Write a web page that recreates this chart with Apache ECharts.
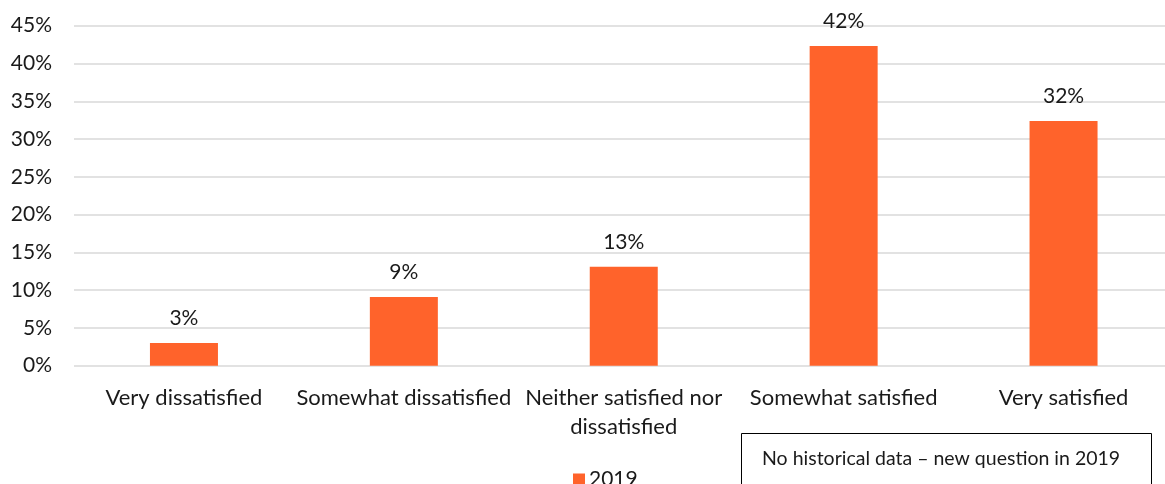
<!DOCTYPE html>
<html>
<head>
<meta charset="utf-8">
<script src="https://cdn.jsdelivr.net/npm/echarts@6/dist/echarts.min.js"></script>
<style>
html,body{margin:0;padding:0;background:#fff;}
#chart{width:1165px;height:484px;}
</style>
</head>
<body>
<div id="chart"></div>
<script>
const categories = ['Very dissatisfied', 'Somewhat dissatisfied', 'Neither satisfied nor\ndissatisfied', 'Somewhat satisfied', 'Very satisfied'];
const values2019 = [3.0, 9.1, 13.1, 42.3, 32.4];
const seriesName = '2019';
const yTicks = [0, 5, 10, 15, 20, 25, 30, 35, 40, 45];
const noteText = 'No historical data \u2013 new question in 2019';

const FONT = 'Lato';
const TXT = '#1a1a1a';
const chart = echarts.init(document.getElementById('chart'));
chart.setOption({
  animation: false,
  textStyle: { fontFamily: FONT },
  grid: { left: 74, width: 1099.5, top: 25.7, height: 340, containLabel: false, outerBoundsMode: 'none' },
  legend: {
    data: [seriesName], left: 568, top: 464, icon: 'rect', itemWidth: 12, itemHeight: 12, itemGap: 5,
    textStyle: { fontFamily: FONT, fontSize: 21, color: TXT, padding: [0,0,0,-1] }
  },
  xAxis: {
    type: 'category', data: categories,
    axisLine: { show: false }, axisTick: { show: false },
    axisLabel: { interval: 0, margin: 18, fontFamily: FONT, fontSize: 22, color: TXT, lineHeight: 29 }
  },
  yAxis: {
    type: 'value', min: yTicks[0], max: yTicks[yTicks.length-1], interval: 5,
    axisLine: { show: false }, axisTick: { show: false },
    splitLine: { lineStyle: { color: '#d9d9d9', width: 1.5 } },
    axisLabel: { margin: 22, fontFamily: FONT, fontSize: 21, color: TXT, formatter: v => v + '%' }
  },
  series: [{
    name: seriesName, type: 'bar', data: values2019, barWidth: 68,
    itemStyle: { color: '#FF632B' },
    label: { show: true, position: 'top', distance: 14, fontFamily: FONT, fontSize: 21, color: TXT,
      formatter: p => Math.round(p.value) + '%' }
  }],
  graphic: [
    { type: 'rect', shape: { x: 741.5, y: 433.5, width: 410, height: 80 }, style: { fill: '#fff', stroke: '#000', lineWidth: 1 } },
    { type: 'text', x: 762, y: 459, style: { text: noteText, fontFamily: FONT, fontSize: 19.5, fill: TXT, verticalAlign: 'middle' } }
  ]
});
</script>
</body>
</html>
